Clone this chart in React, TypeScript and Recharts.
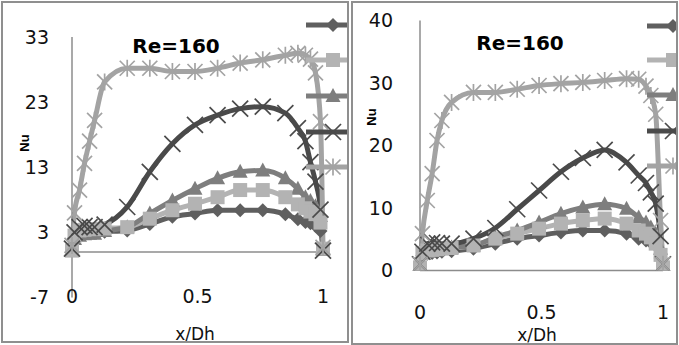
import React from 'react';
import { LineChart, Line, XAxis, YAxis, ReferenceLine } from 'recharts';

// x/Dh sample positions shared by every series
const xPositions = [0, 0.01, 0.03, 0.05, 0.07, 0.09, 0.13, 0.22, 0.31, 0.4, 0.49, 0.58, 0.67, 0.76, 0.85, 0.9, 0.93, 0.95, 0.97, 0.99, 1.0];

// Left panel series (Nu)
const leftDiamond = [0.2, 2.2, 2.8, 2.9, 3.0, 3.0, 3.1, 3.3, 4.3, 5.4, 5.9, 6.4, 6.4, 6.4, 5.8, 5.0, 4.6, 4.4, 4.0, 3.2, 0.5];
const leftSquare = [0.2, 2.5, 3.3, 3.4, 3.5, 3.5, 3.6, 3.8, 5.1, 6.4, 7.4, 8.4, 9.5, 9.5, 8.4, 7.3, 6.7, 6.2, 5.8, 4.5, 0.5];
const leftTriangle = [0.5, 2.0, 2.5, 2.7, 2.8, 2.8, 3.2, 3.8, 5.9, 7.9, 9.7, 11.3, 12.3, 12.5, 11.3, 9.7, 8.4, 7.8, 7.0, 5.5, 0.3];
const leftCross = [0.5, 3.0, 3.8, 4.0, 3.8, 3.8, 4.2, 6.9, 12.3, 16.6, 19.5, 21.0, 22.0, 22.3, 21.3, 19.0, 17.0, 13.8, 10.8, 6.5, 0.2];
const leftStar = [1.0, 6.0, 9.5, 13.6, 17.0, 20.2, 26.1, 28.2, 28.2, 27.7, 27.7, 28.2, 29.0, 29.5, 30.2, 30.5, 30.2, 29.6, 27.5, 20.0, 0.7];

// Right panel series (Nu)
const rightDiamond = [0.3, 2.4, 2.7, 2.8, 2.9, 3.0, 3.1, 3.5, 4.3, 5.1, 5.6, 6.1, 6.4, 6.4, 5.9, 5.1, 4.8, 4.5, 4.0, 2.0, 0.3];
const rightSquare = [0.5, 2.8, 3.2, 3.3, 3.4, 3.5, 3.6, 4.0, 5.1, 5.9, 6.7, 7.5, 8.0, 8.3, 7.5, 6.4, 5.9, 5.3, 4.3, 2.5, 0.5];
const rightTriangle = [0.5, 2.8, 3.2, 3.3, 3.4, 3.5, 3.7, 4.0, 5.3, 6.4, 7.7, 9.1, 10.1, 10.6, 9.9, 8.5, 7.7, 6.9, 5.9, 3.5, 0.5];
const rightCross = [1.0, 3.0, 4.3, 4.5, 4.4, 4.3, 4.3, 5.1, 6.8, 9.8, 12.8, 15.8, 18.0, 19.3, 17.3, 15.2, 14.0, 12.5, 10.7, 5.5, 1.0];
const rightStar = [1.0, 5.9, 11.2, 15.5, 20.8, 24.0, 26.9, 28.5, 28.5, 29.0, 29.6, 29.9, 30.1, 30.4, 30.7, 30.6, 29.5, 28.0, 25.0, 8.0, 1.0];

const xTicks = [0, 0.5, 1];
const leftYTicks = [-7, 3, 13, 23, 33];
const rightYTicks = [0, 10, 20, 30, 40];
const chartTitle = 'Re=160';
const xTitle = 'x/Dh';
const yTitle = 'Nu';

const seriesStyle = [
  { key: 'd', kind: 'diamond', color: '#5f5f5f' },
  { key: 's', kind: 'square', color: '#b3b3b3' },
  { key: 't', kind: 'triangle', color: '#7e7e7e' },
  { key: 'c', kind: 'cross', color: '#4a4a4a' },
  { key: 'a', kind: 'star', color: '#a3a3a3' },
];
const markerOrder = ['d', 't', 's', 'c', 'a'];

const FONT = "'DejaVu Sans', sans-serif";

function marker(kind: string, color: string, cx: number, cy: number, key?: string) {
  switch (kind) {
    case 'diamond':
      return <polygon key={key} points={`${cx},${cy - 7} ${cx + 7},${cy} ${cx},${cy + 7} ${cx - 7},${cy}`} fill={color} />;
    case 'square':
      return <rect key={key} x={cx - 7} y={cy - 7} width={14} height={14} fill={color} />;
    case 'triangle':
      return <polygon key={key} points={`${cx},${cy - 8} ${cx + 7.5},${cy + 6} ${cx - 7.5},${cy + 6}`} fill={color} />;
    case 'cross':
      return (
        <g key={key} stroke={color} strokeWidth={1.7}>
          <line x1={cx - 8} y1={cy - 8} x2={cx + 8} y2={cy + 8} />
          <line x1={cx - 8} y1={cy + 8} x2={cx + 8} y2={cy - 8} />
        </g>
      );
    default:
      return (
        <g key={key} stroke={color} strokeWidth={1.7}>
          <line x1={cx - 7.5} y1={cy - 7.5} x2={cx + 7.5} y2={cy + 7.5} />
          <line x1={cx - 7.5} y1={cy + 7.5} x2={cx + 7.5} y2={cy - 7.5} />
          <line x1={cx} y1={cy - 8.5} x2={cx} y2={cy + 8.5} />
        </g>
      );
  }
}

type PanelProps = {
  left: number; top: number; width: number; height: number;
  values: Record<string, number[]>;
  yDomain: [number, number]; yTicks: number[];
  plot: { left: number; right: number; top: number; bottom: number };
  tickGap: number; xTickOffset: number;
  titlePos: [number, number]; nuPos: [number, number]; xTitlePos: [number, number];
  legendX: number; legendMarkerX: number; legendYs: number[];
};

function Panel(p: PanelProps) {
  const innerW = p.width - 4;
  const innerH = p.height - 4;
  const data = xPositions.map((x, i) => {
    const row: Record<string, number> = { x };
    seriesStyle.forEach((s) => { row[s.key] = p.values[s.key][i]; });
    return row;
  });
  const ox = p.left + 2;
  const oy = p.top + 2;
  return (
    <div style={{ position: 'absolute', left: p.left, top: p.top, width: p.width, height: p.height, border: '2px solid #8f8f8f', boxSizing: 'border-box', overflow: 'hidden', background: '#fff' }}>
      <LineChart width={innerW} height={innerH} data={data} margin={{ top: p.plot.top - oy, right: innerW - (p.plot.right - ox), bottom: 0, left: 0 }}>
        <XAxis
          dataKey="x" type="number" domain={[0, 1]} ticks={xTicks} interval={0}
          axisLine={false} tickLine={false} tickSize={0} tickMargin={0}
          height={innerH - (p.plot.bottom - oy)}
          tick={(t: any) => (
            <text x={t.x} y={t.y + p.xTickOffset} dy="0.35em" textAnchor="middle" fontSize={19} fontFamily={FONT} fill="#111">{t.payload.value}</text>
          )}
        />
        <YAxis
          type="number" domain={p.yDomain} ticks={p.yTicks} interval={0} allowDataOverflow
          width={p.plot.left - ox} axisLine={{ stroke: '#8c8c8c', strokeWidth: 1.5 }} tickLine={false} tickSize={0} tickMargin={p.tickGap}
          tick={{ fill: '#111', fontSize: 19, fontFamily: FONT }}
        />
        <ReferenceLine y={0} stroke="#8c8c8c" strokeWidth={1.5} />
        {seriesStyle.map((s) => (
          <Line key={'l' + s.key} type="monotone" dataKey={s.key} stroke={s.color} strokeWidth={5} dot={false} activeDot={false} isAnimationActive={false} legendType="none" />
        ))}
        {markerOrder.map((k) => {
          const s = seriesStyle.find((q) => q.key === k)!;
          return (
            <Line key={'m' + k} type="monotone" dataKey={k} stroke="none" activeDot={false} isAnimationActive={false} legendType="none"
              dot={(d: any) => marker(s.kind, s.color, d.cx, d.cy, `${k}-${d.index}`)} />
          );
        })}
      </LineChart>
      <svg style={{ position: 'absolute', left: -ox, top: -oy, pointerEvents: 'none' }} width={679} height={345}>
        <text x={p.titlePos[0]} y={p.titlePos[1]} textAnchor="middle" fontSize={20} fontWeight="bold" fontFamily={FONT} fill="#000">{chartTitle}</text>
        <text transform={`translate(${p.nuPos[0]},${p.nuPos[1]}) rotate(-90)`} textAnchor="middle" dominantBaseline="central" fontSize={13} fontWeight="bold" fontFamily="'Liberation Sans', sans-serif" fill="#000">{yTitle}</text>
        <text x={p.xTitlePos[0]} y={p.xTitlePos[1]} textAnchor="middle" fontSize={17} fontFamily={FONT} fill="#111">{xTitle}</text>
        {seriesStyle.map((s, i) => (
          <g key={'lg' + s.key}>
            <line x1={p.legendX} y1={p.legendYs[i]} x2={p.legendX + 80} y2={p.legendYs[i]} stroke={s.color} strokeWidth={5} />
            {marker(s.kind, s.color, p.legendMarkerX, p.legendYs[i])}
          </g>
        ))}
      </svg>
    </div>
  );
}

export default function App() {
  return (
    <div style={{ position: 'absolute', left: 0, top: 0, width: 679, height: 345, background: '#fff', overflow: 'hidden' }}>
      <Panel
        left={1} top={1} width={348} height={342}
        values={{ d: leftDiamond, s: leftSquare, t: leftTriangle, c: leftCross, a: leftStar }}
        yDomain={[-7, 33]} yTicks={leftYTicks}
        plot={{ left: 72, right: 323, top: 37, bottom: 297.5 }}
        tickGap={23} xTickOffset={-1.5}
        titlePos={[176, 53]} nuPos={[24, 143]} xTitlePos={[195, 340]}
        legendX={306} legendMarkerX={333} legendYs={[25, 60, 96, 132, 167]}
      />
      <Panel
        left={351} top={1} width={327} height={344}
        values={{ d: rightDiamond, s: rightSquare, t: rightTriangle, c: rightCross, a: rightStar }}
        yDomain={[0, 40]} yTicks={rightYTicks}
        plot={{ left: 420, right: 663, top: 20.5, bottom: 270.5 }}
        tickGap={27} xTickOffset={41.5}
        titlePos={[520, 50]} nuPos={[371, 117]} xTitlePos={[537, 341]}
        legendX={647} legendMarkerX={673} legendYs={[26, 60, 95, 131, 166]}
      />
    </div>
  );
}
